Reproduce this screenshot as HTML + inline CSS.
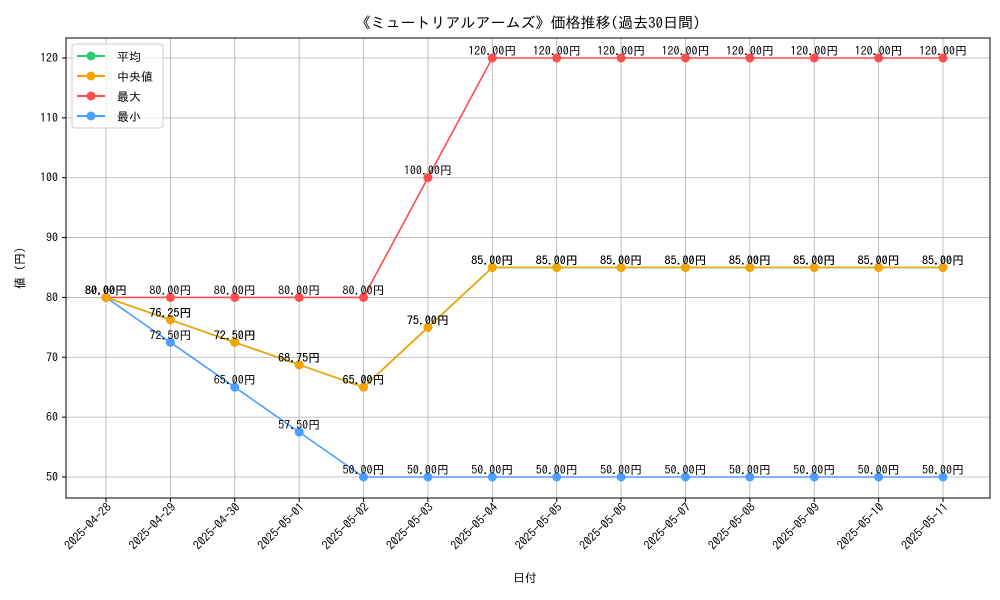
<!DOCTYPE html>
<html><head><meta charset="utf-8"><style>
body{margin:0;background:#fff;}
svg{display:block;font-family:"IPAGothic","Noto Sans CJK JP",monospace;}
</style></head><body>
<svg id="chart" width="1000" height="600">
<rect x="0" y="0" width="1000" height="600" fill="#fff"/>
<text x="528" y="28" text-anchor="middle" font-size="15">《ミュートリアルアームズ》価格推移(過去30日間)</text>
<g id="grid"></g>
<rect x="66" y="38" width="924" height="460" fill="none" stroke="#000" stroke-width="1"/>
<g id="axes"></g>
<g id="series"></g>
<text x="525" y="582" text-anchor="middle" font-size="12">日付</text>
<text transform="translate(24,268) rotate(-90)" text-anchor="middle" font-size="12">値 (円)</text>
<g>
<rect x="72" y="44" width="91" height="84" rx="3" fill="#fff" fill-opacity="0.8" stroke="#ccc"/>
<g><line x1="77" y1="56" x2="105" y2="56" stroke="#2ecc71" stroke-width="2"/><circle cx="91" cy="56" r="4.5" fill="#2ecc71"/><text x="117" y="61" font-size="12">平均</text></g>
<g><line x1="77" y1="76" x2="105" y2="76" stroke="#f5a300" stroke-width="2"/><circle cx="91" cy="76" r="4.5" fill="#f5a300"/><text x="117" y="81" font-size="12">中央値</text></g>
<g><line x1="77" y1="96" x2="105" y2="96" stroke="#ff4d4d" stroke-width="2"/><circle cx="91" cy="96" r="4.5" fill="#ff4d4d"/><text x="117" y="101" font-size="12">最大</text></g>
<g><line x1="77" y1="116" x2="105" y2="116" stroke="#4d9eff" stroke-width="2"/><circle cx="91" cy="116" r="4.5" fill="#4d9eff"/><text x="117" y="121" font-size="12">最小</text></g>
</g>
</svg>
<script>
const categories=["2025-04-28","2025-04-29","2025-04-30","2025-05-01","2025-05-02","2025-05-03","2025-05-04","2025-05-05","2025-05-06","2025-05-07","2025-05-08","2025-05-09","2025-05-10","2025-05-11"];
const meanValues=[80,76.25,72.5,68.75,65,75,85,85,85,85,85,85,85,85];
const medianValues=[80,76.25,72.5,68.75,65,75,85,85,85,85,85,85,85,85];
const maxValues=[80,80,80,80,80,100,120,120,120,120,120,120,120,120];
const minValues=[80,72.5,65,57.5,50,50,50,50,50,50,50,50,50,50];
const yTicks=[50,60,70,80,90,100,110,120];
const NS="http://www.w3.org/2000/svg";
function xPos(i){return 106+i*(943-106)/(categories.length-1);}
function yPos(v){return 477-(v-50)*(477-58)/70;}
function mk(tag,attrs,parent){const e=document.createElementNS(NS,tag);for(const k in attrs)e.setAttribute(k,attrs[k]);parent.appendChild(e);return e;}
const grid=document.getElementById('grid'),axes=document.getElementById('axes'),ser=document.getElementById('series');
yTicks.forEach(v=>{const y=yPos(v);
const gl=mk('line',{x1:66,x2:990,y1:y,y2:y,stroke:'#b0b0b0','stroke-width':0.8},grid);


mk('line',{x1:62,x2:66,y1:y,y2:y,stroke:'#000'},axes);
const t=mk('text',{x:58,y:y+4,'text-anchor':'end','font-size':12},axes);t.textContent=v;

});
categories.forEach((c,i)=>{const x=xPos(i);
const gl=mk('line',{x1:x,x2:x,y1:38,y2:498,stroke:'#b0b0b0','stroke-width':0.8},grid);


mk('line',{x1:x,x2:x,y1:498,y2:502,stroke:'#000'},axes);
const t=mk('text',{x:0,y:0,'text-anchor':'end','font-size':12,transform:`translate(${x+6},${508}) rotate(-45)`},axes);t.textContent=c;

});
function series(vals,color,name){const g=mk('g',{},ser);


mk('polyline',{points:vals.map((v,i)=>xPos(i)+','+yPos(v)).join(' '),fill:'none',stroke:color,'stroke-width':1.6},g);
vals.forEach((v,i)=>{const c=mk('circle',{cx:xPos(i),cy:yPos(v),r:4.5,fill:color},g);


const t=mk('text',{x:xPos(i),y:yPos(v)-3,'text-anchor':'middle','font-size':12},g);t.textContent=v.toFixed(2)+'円';

});}
series(meanValues,'#2ecc71','mean');
series(maxValues,'#ff4d4d','max');
series(minValues,'#4d9eff','min');
series(medianValues,'#f5a300','median');
</script>
</body></html>
